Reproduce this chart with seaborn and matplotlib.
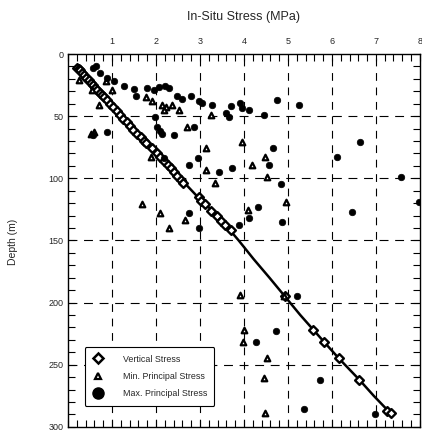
import matplotlib
matplotlib.use('Agg')
import matplotlib.pyplot as plt
from matplotlib.lines import Line2D
from matplotlib.ticker import MultipleLocator
import numpy as np
import pandas as pd
import seaborn as sns

# vertical stress profile (depth m, stress MPa)
line_depth = [11, 30, 50, 70, 85, 100, 115, 130, 140, 150, 165, 180, 195, 210, 222, 232, 245, 262, 275, 289]
line_stress = [0.21, 0.70, 1.21, 1.72, 2.15, 2.55, 2.95, 3.40, 3.64, 3.88, 4.22, 4.58, 4.93, 5.28, 5.58, 5.83, 6.16, 6.62, 6.95, 7.33]

# vertical stress points
vert_depth = [11, 12, 13, 15, 17, 19, 21, 23, 25, 27, 29, 31, 33, 35, 37, 40, 43, 46, 49, 52, 55,
              58, 61, 64, 67, 70, 72, 76, 80, 83, 86, 89, 92, 95, 98, 101, 104, 115, 118, 121, 126, 130,
              134, 138, 142, 195, 222, 232, 245, 262, 287, 289]
vert_stress = [0.21, 0.25, 0.27, 0.32, 0.37, 0.41, 0.47, 0.52, 0.57, 0.62, 0.67, 0.72, 0.77, 0.82, 0.88, 0.95, 1.03, 1.11, 1.18, 1.26, 1.34,
               1.41, 1.49, 1.57, 1.65, 1.72, 1.78, 1.90, 2.02, 2.10, 2.19, 2.27, 2.35, 2.42, 2.48, 2.57, 2.62, 2.97, 3.03, 3.12, 3.25, 3.38,
               3.47, 3.58, 3.70, 4.93, 5.57, 5.83, 6.16, 6.62, 7.25, 7.34]

# minimum principal stress
min_stress = [0.25, 0.55, 0.70, 0.86, 1.00, 0.52, 0.60, 1.77, 1.91, 2.14, 2.22, 2.36, 2.52, 2.18, 2.70,
              3.25, 3.13, 3.95, 1.88, 3.13, 3.34, 4.18, 4.49, 4.52, 4.95, 1.68, 2.10, 2.30, 2.67, 4.09,
              3.92, 4.91, 4.00, 3.98, 4.52, 4.45, 4.49]
min_depth = [21, 29, 41, 22, 29, 64, 63, 35, 38, 41, 43, 41, 45, 45, 59,
             49, 75.5, 70.5, 82.5, 93, 104, 89, 82.5, 98.6, 119, 121, 128, 140, 133.5, 125.6,
             194, 195, 222, 232, 245, 260.6, 289]

# maximum principal stress
max_stress = [0.58, 0.64, 0.74, 0.89, 1.05, 1.27, 1.50, 1.54, 1.80, 1.95, 2.07, 2.20, 2.30, 2.48, 2.60,
              2.79, 2.98, 3.05, 3.27, 3.59, 3.66, 3.70, 3.92, 3.95, 4.11, 4.45, 4.75, 5.25, 1.99, 2.03,
              2.10, 2.14, 2.40, 2.86, 0.89, 0.57, 4.66, 6.65, 2.18, 2.75, 2.95, 3.43, 3.73, 4.57, 4.84,
              4.87, 6.11, 6.46, 7.56, 7.98, 2.75, 2.98, 3.89, 4.11, 4.32, 5.20, 4.72, 4.27, 5.74, 5.36, 6.99]
max_depth = [11.5, 10, 15.5, 19.5, 22, 26, 28, 34, 27, 29, 26.5, 26, 27.5, 34, 36,
             34, 38, 39.5, 41, 47.5, 50.6, 42, 39.5, 43.5, 45, 49, 37, 41, 51, 59,
             62, 64, 65, 58.5, 63, 65, 75.5, 71, 83.7, 89, 84, 94.6, 92, 89, 105,
             135, 82.5, 127, 98.6, 119, 128, 140, 137.5, 132, 123, 195, 222.5, 232, 262, 286, 289.5]

xticks = [1, 2, 3, 4, 5, 6, 7, 8]
yticks = [0, 50, 100, 150, 200, 250, 300]

sns.set_style("ticks")
plt.rcParams['font.family'] = ['Liberation Sans', 'DejaVu Sans']

fig = plt.figure(figsize=(4.22, 4.32), dpi=100)
ax = fig.add_axes([0.161, 0.012, 0.834, 0.863])

line_df = pd.DataFrame({'stress': line_stress, 'depth': line_depth})
sns.lineplot(data=line_df, x='stress', y='depth', sort=False, estimator=None,
             color='black', lw=1.8, ax=ax, zorder=3)

sns.scatterplot(x=vert_stress, y=vert_depth, marker='D', s=20, color='white',
                edgecolor='black', linewidth=1.7, ax=ax, zorder=4)
sns.scatterplot(x=min_stress, y=min_depth, marker='^', s=16, color='white',
                edgecolor='black', linewidth=1.6, ax=ax, zorder=4)
sns.scatterplot(x=max_stress, y=max_depth, marker='o', s=22, color='black',
                edgecolor='black', linewidth=0.5, ax=ax, zorder=4)

ax.set_xlim(0, 8)
ax.set_ylim(300, 0)
ax.xaxis.tick_top()
ax.xaxis.set_label_position('top')
ax.set_xticks(xticks)
ax.set_xticklabels([str(t) for t in xticks], fontsize=6.5)
ax.set_yticks(yticks)
ax.set_yticklabels([str(t) for t in yticks], fontsize=6.5)
ax.xaxis.set_minor_locator(MultipleLocator(0.2))
ax.yaxis.set_minor_locator(MultipleLocator(10))
ax.tick_params(which='both', direction='in', top=True, bottom=True, left=True, right=True,
               length=5, width=0.8, color='black', pad=3)
ax.tick_params(axis='x', which='major', pad=6)

for v in range(1, 8):
    ax.axvline(v, color='black', lw=0.8, ls=(0, (7, 6)), zorder=1)
for h in [50, 100, 150, 200, 250]:
    ax.axhline(h, color='black', lw=0.8, ls=(0, (8, 6)), zorder=1)

for sp in ax.spines.values():
    sp.set_color('black')
    sp.set_linewidth(1.0)

ax.set_xlabel('In-Situ Stress (MPa)', fontsize=9, labelpad=12)
ax.set_ylabel('')
fig.text(0.03, 0.44, 'Depth (m)', rotation=90, fontsize=7.5, ha='center', va='center')

handles = [
    Line2D([], [], marker='D', ls='', markersize=5, markerfacecolor='white',
           markeredgecolor='black', markeredgewidth=1.8),
    Line2D([], [], marker='^', ls='', markersize=5, markerfacecolor='white',
           markeredgecolor='black', markeredgewidth=1.6),
    Line2D([], [], marker='o', ls='', markersize=8, color='black'),
]
labels = ['Vertical Stress', 'Min. Principal Stress', 'Max. Principal Stress']
leg = ax.legend(handles, labels, loc='lower left', bbox_to_anchor=(0.035, 0.045),
                fontsize=6.4, frameon=True, fancybox=True, labelspacing=0.95,
                handletextpad=2.0, borderpad=0.8, handlelength=1.5)
leg.get_frame().set_edgecolor('black')
leg.get_frame().set_linewidth(0.8)
leg.get_frame().set_alpha(1)

fig.savefig('out.png', dpi=100)
